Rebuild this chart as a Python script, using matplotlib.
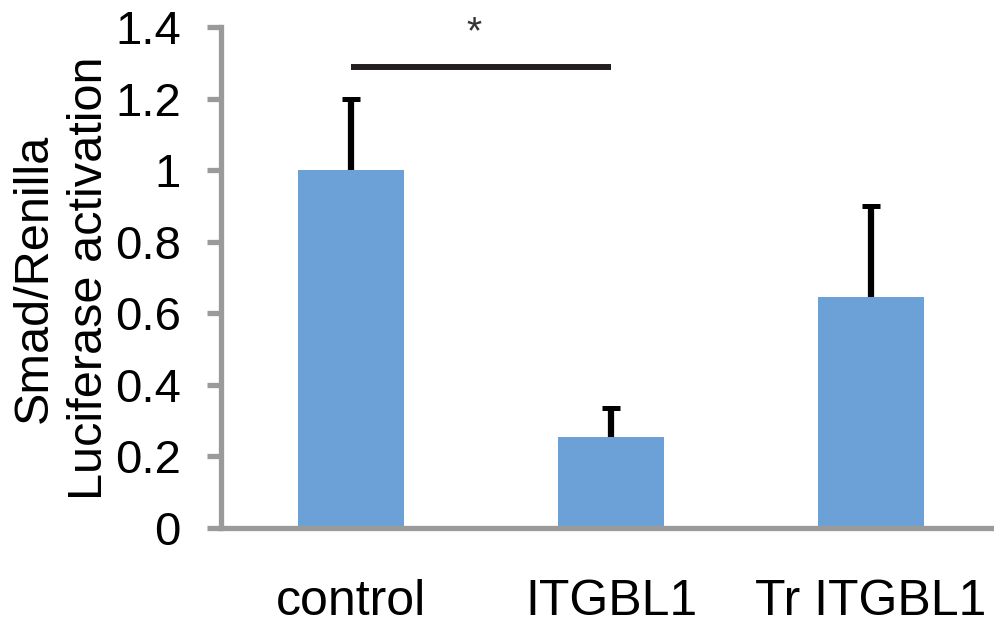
import matplotlib
matplotlib.use("Agg")
import matplotlib.pyplot as plt
import numpy as np

categories = ["control", "ITGBL1", "Tr ITGBL1"]
values = [1.0, 0.255, 0.645]
errors = [0.20, 0.08, 0.255]
y_ticks = [0, 0.2, 0.4, 0.6, 0.8, 1, 1.2, 1.4]
y_tick_labels = ["0", "0.2", "0.4", "0.6", "0.8", "1", "1.2", "1.4"]
sig_pair = (0, 1)
sig_height = 1.288
sig_label = "*"
y_label_lines = ["Smad/Renilla", "Luciferase activation"]

plt.rcParams['font.family'] = ['Liberation Sans', 'DejaVu Sans']

W, H = 994, 626
fig = plt.figure(figsize=(W / 100, H / 100), dpi=100)
left_px, right_px, top_px, bottom_px = 221, 994, 27, 528
ax = fig.add_axes([left_px / W, (H - bottom_px) / H,
                   (right_px - left_px) / W, (bottom_px - top_px) / H])

x = np.arange(len(categories))
bar_color = "#6BA1D6"
ax.bar(x, values, width=0.408, color=bar_color, zorder=2)
eb = ax.errorbar(x, values, yerr=[np.zeros(len(values)), errors], fmt='none',
                 ecolor='black', elinewidth=4.5, capsize=6.5, capthick=3.6, zorder=3)
# keep only the upper caps
eb[1][0].set_visible(False)

ax.set_ylim(0, 1.4)
ax.set_xlim(-0.5, 2.5 - 7 / 260)
ax.set_yticks(y_ticks)
ax.set_yticklabels(y_tick_labels)
ax.set_xticks(x)
ax.set_xticklabels(categories)

spine_color = "#9a9a9a"
for s in ["top", "right"]:
    ax.spines[s].set_visible(False)
for s in ["left", "bottom"]:
    ax.spines[s].set_color(spine_color)
    ax.spines[s].set_linewidth(3.8)

ax.tick_params(axis='y', direction='out', length=10, width=3.8, color=spine_color,
               labelsize=34, pad=19)
ax.tick_params(axis='x', length=0, labelsize=36, pad=37)

# significance bar
ax.plot([x[sig_pair[0]], x[sig_pair[1]]], [sig_height, sig_height],
        color='#231f20', lw=4.3, solid_capstyle='butt', clip_on=False, zorder=4)
ax.text(0.473, 1.355, sig_label, ha='center', va='baseline', fontsize=28,
        color='#333333', clip_on=False)

# two-line y label, centred lines
for xpx, line in zip([47, 102], y_label_lines):
    fig.text(xpx / W, 1 - 278 / H, line, rotation=90, rotation_mode='anchor',
             ha='center', va='baseline', fontsize=35)

fig.savefig("out.png", dpi=100)
